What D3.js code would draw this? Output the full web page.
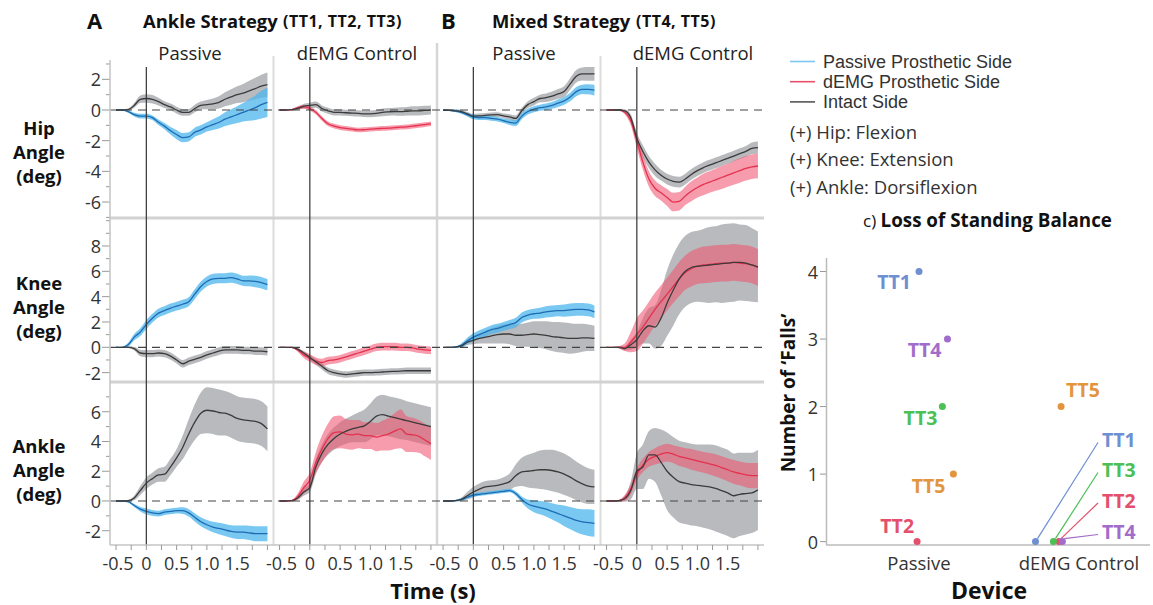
<!DOCTYPE html>
<html><head><meta charset="utf-8">
<script src="https://cdn.jsdelivr.net/npm/d3@7"></script>
<style>body{margin:0;background:#fff;} svg{display:block;font-family:"Open Sans",sans-serif;}</style>
</head><body><svg id="c" width="1153" height="605"></svg>
<script>
// ---------- DATA ----------
const times = [-0.5,-0.4,-0.3,-0.2,-0.1,0,0.1,0.2,0.3,0.4,0.5,0.6,0.7,0.8,0.9,1.0,1.1,1.2,1.3,1.4,1.5,1.6,1.7,1.8,1.9,2.0];
const xTickValues = [-0.5,-0.25,0,0.25,0.5,0.75,1.0,1.25,1.5,1.75,2.0];
const xTickLabels = ["-0.5","0","0.5","1.0","1.5"];
const xLabelValues = [-0.5,0,0.5,1.0,1.5];
const hipTicks = [2,0,-2,-4,-6];
const kneeTicks = [8,6,4,2,0,-2];
const ankleTicks = [6,4,2,0,-2];
const conditions = ["Passive","dEMG Control","Passive","dEMG Control"];
const jointNames = ["Hip","Knee","Ankle"];

// Hip — Ankle strategy, Passive
const hipAPasProsMean = [0,0,-0.1,-0.3,-0.4,-0.4,-0.5,-0.8,-1.05,-1.35,-1.6,-1.8,-1.75,-1.45,-1.3,-1.1,-0.95,-0.8,-0.6,-0.45,-0.3,-0.15,0,0.15,0.35,0.5];
const hipAPasProsSd   = [0.03,0.03,0.08,0.12,0.15,0.15,0.15,0.18,0.2,0.25,0.3,0.3,0.3,0.3,0.3,0.3,0.35,0.4,0.45,0.5,0.55,0.6,0.7,0.8,0.9,0.95];
const hipAPasIntMean  = [0,0,0.02,0.3,0.7,0.75,0.7,0.55,0.35,0.2,0.0,-0.15,-0.15,0.1,0.3,0.35,0.4,0.5,0.7,0.85,1.0,1.1,1.25,1.4,1.55,1.65];
const hipAPasIntSd    = [0.05,0.05,0.08,0.15,0.25,0.28,0.28,0.25,0.22,0.22,0.22,0.22,0.22,0.25,0.25,0.3,0.35,0.4,0.45,0.5,0.55,0.6,0.65,0.7,0.75,0.8];
// Hip — Ankle strategy, dEMG
const hipADemProsMean = [0,0,0.02,0.15,0.2,0.1,-0.15,-0.55,-0.9,-1.05,-1.15,-1.2,-1.25,-1.3,-1.28,-1.25,-1.22,-1.2,-1.18,-1.15,-1.12,-1.1,-1.05,-1.0,-0.95,-0.9];
const hipADemProsSd   = [0.03,0.03,0.05,0.1,0.12,0.13,0.14,0.15,0.15,0.15,0.15,0.15,0.15,0.15,0.15,0.15,0.15,0.15,0.15,0.15,0.15,0.15,0.15,0.15,0.15,0.15];
const hipADemIntMean  = [0,0,0.02,0.1,0.25,0.3,0.35,0.1,-0.05,-0.15,-0.15,-0.18,-0.2,-0.22,-0.25,-0.25,-0.22,-0.15,-0.12,-0.1,-0.1,-0.08,-0.05,-0.05,-0.02,0.0];
const hipADemIntSd    = [0.03,0.03,0.05,0.1,0.15,0.18,0.2,0.2,0.2,0.2,0.2,0.2,0.2,0.2,0.2,0.22,0.22,0.25,0.25,0.25,0.28,0.28,0.3,0.3,0.3,0.3];
// Hip — Mixed strategy, Passive
const hipBPasProsMean = [0,-0.02,-0.05,-0.15,-0.3,-0.45,-0.5,-0.5,-0.55,-0.6,-0.7,-0.8,-0.85,-0.4,-0.1,0.05,0.15,0.2,0.3,0.45,0.6,0.85,1.2,1.35,1.35,1.3];
const hipBPasProsSd   = [0.03,0.05,0.08,0.1,0.12,0.15,0.15,0.15,0.15,0.15,0.15,0.18,0.2,0.2,0.2,0.2,0.2,0.22,0.22,0.25,0.25,0.28,0.3,0.3,0.33,0.35];
const hipBPasIntMean  = [0,-0.02,-0.05,-0.1,-0.25,-0.4,-0.38,-0.35,-0.32,-0.3,-0.38,-0.45,-0.55,-0.05,0.35,0.55,0.75,0.8,0.9,1.05,1.2,1.7,2.2,2.35,2.35,2.35];
const hipBPasIntSd    = [0.03,0.05,0.08,0.1,0.12,0.15,0.15,0.15,0.15,0.15,0.15,0.18,0.2,0.2,0.22,0.25,0.25,0.28,0.3,0.32,0.35,0.38,0.4,0.42,0.45,0.45];
// Hip — Mixed strategy, dEMG
const hipBDemProsMean = [0,0,0,-0.15,-0.7,-2.0,-3.4,-4.5,-5.1,-5.4,-5.7,-6.0,-5.95,-5.6,-5.3,-5.05,-4.85,-4.7,-4.55,-4.4,-4.25,-4.1,-3.95,-3.8,-3.7,-3.65];
const hipBDemProsSd   = [0.03,0.03,0.05,0.12,0.3,0.5,0.5,0.5,0.5,0.5,0.55,0.6,0.6,0.6,0.65,0.65,0.7,0.7,0.72,0.75,0.75,0.78,0.8,0.8,0.8,0.8];
const hipBDemIntMean  = [0,0,0,-0.05,-0.5,-1.85,-2.7,-3.4,-3.9,-4.25,-4.5,-4.65,-4.7,-4.5,-4.2,-3.95,-3.75,-3.6,-3.45,-3.3,-3.15,-3.0,-2.85,-2.7,-2.5,-2.45];
const hipBDemIntSd    = [0.03,0.03,0.05,0.1,0.2,0.35,0.4,0.4,0.4,0.35,0.35,0.35,0.35,0.35,0.35,0.35,0.35,0.35,0.35,0.35,0.35,0.35,0.35,0.35,0.38,0.4];

// Knee
const kneeAPasProsMean = [0,0,0.2,0.8,1.2,1.8,2.3,2.7,2.9,3.1,3.25,3.4,3.6,4.2,4.8,5.2,5.4,5.45,5.45,5.5,5.4,5.25,5.25,5.2,5.1,4.95];
const kneeAPasProsSd   = [0.03,0.05,0.15,0.25,0.3,0.35,0.35,0.35,0.35,0.35,0.35,0.35,0.35,0.38,0.4,0.4,0.4,0.4,0.4,0.4,0.4,0.4,0.42,0.45,0.45,0.45];
const kneeAPasIntMean  = [0,0,0,-0.1,-0.45,-0.5,-0.5,-0.45,-0.5,-0.7,-1.0,-1.3,-1.1,-0.95,-0.8,-0.6,-0.45,-0.3,-0.2,-0.2,-0.2,-0.25,-0.25,-0.3,-0.3,-0.35];
const kneeAPasIntSd    = [0.03,0.03,0.05,0.15,0.25,0.28,0.28,0.28,0.28,0.28,0.28,0.3,0.3,0.3,0.3,0.3,0.3,0.3,0.3,0.3,0.3,0.3,0.3,0.3,0.3,0.3];
const kneeADemProsMean = [0,0,0,-0.2,-0.6,-0.85,-1.1,-1.2,-1.05,-1.0,-0.9,-0.75,-0.6,-0.45,-0.3,-0.15,0,0.05,0.05,0.05,0,0,-0.05,-0.15,-0.2,-0.25];
const kneeADemProsSd   = [0.03,0.03,0.05,0.15,0.25,0.3,0.3,0.3,0.3,0.3,0.3,0.3,0.3,0.3,0.3,0.3,0.3,0.3,0.3,0.3,0.3,0.3,0.3,0.3,0.3,0.3];
const kneeADemIntMean  = [0,0,0,-0.15,-0.45,-0.8,-1.15,-1.5,-1.85,-2.0,-2.1,-2.15,-2.1,-2.05,-2.0,-2.0,-1.98,-1.95,-1.92,-1.9,-1.88,-1.85,-1.85,-1.85,-1.85,-1.85];
const kneeADemIntSd    = [0.03,0.03,0.05,0.1,0.15,0.2,0.22,0.25,0.25,0.25,0.25,0.25,0.25,0.25,0.25,0.25,0.25,0.25,0.25,0.25,0.25,0.25,0.25,0.25,0.25,0.25];
const kneeBPasProsMean = [0,0,0.02,0.15,0.5,0.8,1.0,1.2,1.4,1.5,1.65,1.8,1.95,2.35,2.55,2.65,2.7,2.8,2.85,2.9,2.9,2.95,3.0,3.0,2.95,2.8];
const kneeBPasProsSd   = [0.03,0.03,0.05,0.15,0.25,0.3,0.35,0.35,0.35,0.35,0.35,0.35,0.38,0.4,0.4,0.4,0.42,0.45,0.45,0.45,0.48,0.5,0.5,0.5,0.5,0.5];
const kneeBPasIntMean  = [0,0,0.02,0.1,0.4,0.55,0.7,0.8,0.9,1.0,1.05,1.05,0.95,0.95,1.0,1.05,1.0,0.95,0.85,0.8,0.75,0.7,0.7,0.75,0.75,0.7];
const kneeBPasIntSd    = [0.03,0.03,0.05,0.12,0.22,0.3,0.4,0.5,0.6,0.7,0.75,0.8,0.85,0.9,0.95,1.0,1.05,1.1,1.15,1.2,1.2,1.2,1.15,1.1,1.05,1.0];
const kneeBDemProsMean = [0,0,0,0.0,0.4,1.0,1.6,2.3,3.0,3.6,4.2,4.8,5.4,5.9,6.2,6.4,6.5,6.55,6.6,6.65,6.65,6.7,6.65,6.6,6.5,6.3];
const kneeBDemProsSd   = [0.03,0.03,0.1,0.3,0.8,1.3,1.3,1.3,1.3,1.3,1.3,1.3,1.35,1.35,1.4,1.4,1.45,1.45,1.45,1.45,1.45,1.45,1.45,1.45,1.45,1.45];
const kneeBDemIntMean  = [0,0,0,-0.1,0.2,0.6,1.3,1.7,1.6,2.3,3.5,4.5,5.4,6.0,6.3,6.4,6.45,6.5,6.55,6.6,6.65,6.7,6.7,6.65,6.5,6.35];
const kneeBDemIntSd    = [0.03,0.03,0.05,0.15,0.4,0.6,1.0,1.4,1.7,2.2,2.6,2.8,2.8,2.8,2.8,2.8,2.9,3.0,3.0,3.1,3.1,3.1,3.0,3.0,2.9,2.8];

// Ankle
const ankleAPasProsMean = [0,0,-0.05,-0.3,-0.55,-0.7,-0.8,-0.85,-0.75,-0.7,-0.65,-0.65,-0.8,-1.1,-1.4,-1.6,-1.75,-1.85,-1.95,-2.05,-2.1,-2.1,-2.15,-2.2,-2.2,-2.2];
const ankleAPasProsSd   = [0.03,0.03,0.05,0.1,0.15,0.2,0.2,0.2,0.2,0.2,0.2,0.22,0.25,0.28,0.3,0.32,0.35,0.38,0.4,0.42,0.45,0.45,0.48,0.5,0.5,0.5];
const ankleAPasIntMean  = [0,0,0.02,0.2,0.7,1.2,1.5,1.75,1.8,2.3,2.9,3.6,4.5,5.3,5.9,6.1,6.05,5.95,5.9,5.75,5.55,5.45,5.4,5.35,5.2,4.85];
const ankleAPasIntSd    = [0.03,0.03,0.05,0.15,0.3,0.4,0.4,0.45,0.5,0.55,0.6,0.8,1.0,1.2,1.4,1.55,1.55,1.55,1.5,1.5,1.5,1.5,1.5,1.5,1.5,1.5];
const ankleADemProsMean = [0,0,0.02,0.3,0.9,1.4,2.6,3.5,4.2,4.6,4.65,4.5,4.45,4.5,4.4,4.4,4.3,4.4,4.5,4.7,4.85,4.5,4.45,4.35,4.1,3.85];
const ankleADemProsSd   = [0.03,0.03,0.05,0.2,0.4,0.5,0.7,0.9,1.0,1.1,1.1,1.0,1.0,0.95,0.9,0.9,0.95,1.0,1.1,1.2,1.3,1.2,1.15,1.1,1.1,1.1];
const ankleADemIntMean  = [0,0,0.02,0.2,0.6,0.9,2.3,3.2,3.8,4.2,4.5,4.7,4.85,4.95,5.05,5.35,5.7,5.8,5.7,5.6,5.5,5.4,5.3,5.2,5.1,5.0];
const ankleADemIntSd    = [0.03,0.03,0.05,0.12,0.25,0.3,0.5,0.6,0.7,0.75,0.8,0.85,0.9,1.0,1.1,1.2,1.3,1.35,1.35,1.35,1.35,1.3,1.3,1.3,1.3,1.3];
const ankleBPasProsMean = [0,0,0.02,0.1,0.25,0.4,0.45,0.5,0.55,0.6,0.65,0.7,0.5,0.1,-0.2,-0.35,-0.45,-0.55,-0.7,-0.85,-1.0,-1.15,-1.3,-1.4,-1.45,-1.5];
const ankleBPasProsSd   = [0.03,0.03,0.05,0.08,0.1,0.12,0.12,0.12,0.12,0.12,0.12,0.12,0.15,0.2,0.3,0.4,0.45,0.5,0.55,0.6,0.7,0.75,0.8,0.85,0.9,0.9];
const ankleBPasIntMean  = [0,0,0.02,0.1,0.35,0.6,0.8,0.95,1.0,1.05,1.15,1.3,1.7,1.95,2.0,2.05,2.1,2.1,2.05,1.95,1.8,1.6,1.35,1.15,1.0,0.95];
const ankleBPasIntSd    = [0.03,0.03,0.05,0.12,0.25,0.35,0.38,0.4,0.4,0.4,0.45,0.55,0.75,0.95,1.1,1.2,1.3,1.35,1.4,1.4,1.4,1.35,1.3,1.25,1.2,1.15];
const ankleBDemProsMean = [0,0,0.02,0.2,0.8,1.8,2.4,2.8,3.0,3.15,3.25,3.15,3.0,2.9,2.8,2.7,2.6,2.5,2.4,2.25,2.1,1.95,1.85,1.75,1.7,1.7];
const ankleBDemProsSd   = [0.03,0.03,0.05,0.2,0.35,0.4,0.45,0.5,0.55,0.6,0.6,0.6,0.65,0.65,0.7,0.7,0.7,0.72,0.75,0.75,0.78,0.8,0.8,0.82,0.85,0.85];
const ankleBDemIntMean  = [0,0,0.02,0.15,0.7,2.0,2.3,3.1,3.1,2.6,2.0,1.6,1.3,1.2,1.1,1.05,1.0,0.95,0.85,0.7,0.55,0.35,0.45,0.5,0.55,0.75];
const ankleBDemIntSd    = [0.03,0.03,0.05,0.2,0.6,1.2,1.5,1.6,1.8,2.2,2.6,2.7,2.75,2.75,2.75,2.75,2.8,2.85,2.9,2.9,2.9,2.85,2.8,2.75,2.7,2.7];

// Falls scatter
const subjects = ["TT1","TT2","TT3","TT4","TT5"];
const devices = ["Passive","dEMG Control"];
const fallsPassive = [4,0,2,3,1];
const fallsDemg = [0,0,0,0,2];
const jitterPassive = [0,-0.012,0.146,0.178,0.215];
const jitterDemg = [-0.272,-0.125,-0.16,-0.104,-0.112];
const fallTicks = [0,1,2,3,4];

// ---------- LAYOUT ----------
const svg = d3.select("#c");
const colors = {
  intBand:"#a6a9ac", intLine:"#3b3b3b",
  pasBand:"#4cb6ee", pasLine:"#1d6cb3",
  demBand:"#ef5570", demLine:"#e5314e"
};
const subjColor = {TT1:"#6e8fd2",TT2:"#e4506b",TT3:"#4cbf55",TT4:"#a26cca",TT5:"#e3953e"};
const panelLeft = [110,273.5,437,600.5], panelW = 163.5;
const rows = [
  {ticks:hipTicks, domain:[-7.04,3.26], range:[218,60], minor:d3.range(-7,4)},
  {ticks:kneeTicks, domain:[-2.74,10.21], range:[382,218], minor:d3.range(-2,11)},
  {ticks:ankleTicks, domain:[-2.96,8.0], range:[545,382], minor:d3.range(-2,8)}
];
const rowSeries = [
  [[hipAPasProsMean,hipAPasProsSd,hipAPasIntMean,hipAPasIntSd],[hipADemProsMean,hipADemProsSd,hipADemIntMean,hipADemIntSd],
   [hipBPasProsMean,hipBPasProsSd,hipBPasIntMean,hipBPasIntSd],[hipBDemProsMean,hipBDemProsSd,hipBDemIntMean,hipBDemIntSd]],
  [[kneeAPasProsMean,kneeAPasProsSd,kneeAPasIntMean,kneeAPasIntSd],[kneeADemProsMean,kneeADemProsSd,kneeADemIntMean,kneeADemIntSd],
   [kneeBPasProsMean,kneeBPasProsSd,kneeBPasIntMean,kneeBPasIntSd],[kneeBDemProsMean,kneeBDemProsSd,kneeBDemIntMean,kneeBDemIntSd]],
  [[ankleAPasProsMean,ankleAPasProsSd,ankleAPasIntMean,ankleAPasIntSd],[ankleADemProsMean,ankleADemProsSd,ankleADemIntMean,ankleADemIntSd],
   [ankleBPasProsMean,ankleBPasProsSd,ankleBPasIntMean,ankleBPasIntSd],[ankleBDemProsMean,ankleBDemProsSd,ankleBDemIntMean,ankleBDemIntSd]]
];
const xScales = panelLeft.map(l => d3.scaleLinear().domain([-0.6,2.1]).range([l,l+panelW]));
const yScales = rows.map(r => d3.scaleLinear().domain(r.domain).range(r.range));
const plotRight = panelLeft[3]+panelW;

// separators
const sep = svg.append("g");
[273.5,600.5].forEach(x => sep.append("line").attr("x1",x).attr("x2",x).attr("y1",56).attr("y2",545).attr("stroke","#dcdcdc").attr("stroke-width",2));
sep.append("line").attr("x1",437).attr("x2",437).attr("y1",43).attr("y2",545).attr("stroke","#d6d6d6").attr("stroke-width",2.5);
[218,382].forEach(y => sep.append("line").attr("x1",110).attr("x2",plotRight).attr("y1",y).attr("y2",y).attr("stroke","#d2d2d2").attr("stroke-width",3));

// data
const curve = d3.curveMonotoneX;
rows.forEach((r,ri) => {
  const ys = yScales[ri];
  panelLeft.forEach((l,ci) => {
    const xs = xScales[ci];
    const [pm,psd,im,isd] = rowSeries[ri][ci];
    const isDem = ci % 2 === 1;
    const g = svg.append("g");
    const area = (m,s) => d3.area().curve(curve).x((d,i)=>xs(times[i])).y0((d,i)=>ys(m[i]-s[i])).y1((d,i)=>ys(m[i]+s[i]))(m);
    const line = m => d3.line().curve(curve).x((d,i)=>xs(times[i])).y(d=>ys(d))(m);
    g.append("path").attr("d",area(im,isd)).attr("fill",colors.intBand).attr("opacity",0.8);
    g.append("path").attr("d",area(pm,psd)).attr("fill",isDem?colors.demBand:colors.pasBand).attr("opacity",isDem?0.58:0.75);
    g.append("path").attr("d",line(pm)).attr("fill","none").attr("stroke",isDem?colors.demLine:colors.pasLine).attr("stroke-width",1.3);
    g.append("path").attr("d",line(im)).attr("fill","none").attr("stroke",colors.intLine).attr("stroke-width",1.3);
  });
  svg.append("line").attr("x1",110).attr("x2",plotRight).attr("y1",ys(0)).attr("y2",ys(0))
    .attr("stroke","#444").attr("stroke-width",1.2).attr("stroke-dasharray","8,6");
  const ag = svg.append("g");
  r.minor.forEach(v => {
    const major = r.ticks.includes(v);
    ag.append("line").attr("x1",110-(major?8:4)).attr("x2",110).attr("y1",ys(v)).attr("y2",ys(v)).attr("stroke","#999").attr("stroke-width",1);
  });
  r.ticks.forEach(v => ag.append("text").attr("x",101).attr("y",ys(v)).attr("text-anchor","end").attr("dominant-baseline","central")
    .attr("font-size",18).attr("fill","#333").text(String(v)));
});
xScales.forEach(xs => svg.append("line").attr("x1",xs(0)).attr("x2",xs(0)).attr("y1",67).attr("y2",545).attr("stroke","#333").attr("stroke-width",1.2));
svg.append("line").attr("x1",110).attr("x2",110).attr("y1",60).attr("y2",545).attr("stroke","#c4c4c4").attr("stroke-width",1.5);
svg.append("line").attr("x1",110).attr("x2",plotRight).attr("y1",545).attr("y2",545).attr("stroke","#c4c4c4").attr("stroke-width",1.5);
xScales.forEach(xs => {
  xTickValues.forEach(v => svg.append("line").attr("x1",xs(v)).attr("x2",xs(v)).attr("y1",545).attr("y2",550).attr("stroke","#999"));
  xLabelValues.forEach((v,i) => svg.append("text").attr("x",xs(v)+(v<0?2:0)).attr("y",563).attr("text-anchor","middle").attr("dominant-baseline","central")
    .attr("font-size",18).attr("fill","#333").text(xTickLabels[i]));
});
svg.append("text").attr("x",433).attr("y",590).attr("text-anchor","middle").attr("dominant-baseline","central")
  .attr("font-size",22).attr("font-weight","bold").attr("fill","#111").text("Time (s)");

// panel titles
const conditionCenters = [190,357,524,693];
conditions.forEach((c,i) => svg.append("text").attr("x",conditionCenters[i]).attr("y",52).attr("text-anchor","middle").attr("dominant-baseline","central")
  .attr("font-size",18.5).attr("fill","#222").text(c));

// headers
function header(letter, letterX, titleX, subX, title, sub){
  svg.append("text").attr("x",letterX).attr("y",20).attr("dominant-baseline","central").attr("font-size",22).attr("font-weight","bold").attr("fill","#111").text(letter);
  svg.append("text").attr("x",titleX).attr("y",20).attr("dominant-baseline","central").attr("font-weight","bold").attr("fill","#111").attr("font-size",18.4).text(title);
  svg.append("text").attr("x",subX).attr("y",21).attr("dominant-baseline","central").attr("font-weight","bold").attr("fill","#111").attr("font-size",16).attr("letter-spacing",0.5).text(sub);
}
header("A",87,143,283,"Ankle Strategy","(TT1, TT2, TT3)");
header("B",441,492,636,"Mixed Strategy","(TT4, TT5)");

// row labels (one multi-line text each)
const rowLabelY = [127,282,445];
jointNames.forEach((n,i) => {
  const t = svg.append("text").attr("text-anchor","middle").attr("font-size",18.5).attr("font-weight","bold").attr("fill","#111");
  [n,"Angle","(deg)"].forEach((s,j) => t.append("tspan").attr("x",39).attr("y",rowLabelY[i]+j*24).attr("dominant-baseline","central").text(s));
});

// legend
const legendItems = [["Passive Prosthetic Side","#7cc7f0"],["dEMG Prosthetic Side","#e8506a"],["Intact Side","#555"]];
const legendY = [61.5,81.7,101.9];
legendItems.forEach((d,i) => {
  svg.append("line").attr("x1",790).attr("x2",815).attr("y1",legendY[i]).attr("y2",legendY[i]).attr("stroke",d[1]).attr("stroke-width",1.6);
  svg.append("text").attr("x",823).attr("y",legendY[i]).attr("dominant-baseline","central")
    .attr("font-family","'Liberation Sans',Arial,sans-serif").attr("font-size",18).attr("fill","#333").text(d[0]);
});
const notes = ["(+) Hip: Flexion","(+) Knee: Extension","(+) Ankle: Dorsiflexion"];
const notesY = [131,158.5,186.5];
notes.forEach((s,i) => svg.append("text").attr("x",790).attr("y",notesY[i]).attr("dominant-baseline","central").attr("font-size",18.5).attr("fill","#333").text(s));
const ct = svg.append("text").attr("x",863).attr("y",220).attr("dominant-baseline","central").attr("fill","#111");
ct.append("tspan").attr("font-size",17).text("c) ");
ct.append("tspan").attr("font-size",18.8).attr("font-weight","bold").text("Loss of Standing Balance");

// ---------- SCATTER ----------
const sx = d3.scalePoint().domain(devices).range([919,1079]);
const step = 160;
const sy = d3.scaleLinear().domain([-0.05,4.2]).range([545,258]);
svg.append("line").attr("x1",826.5).attr("x2",826.5).attr("y1",258).attr("y2",545).attr("stroke","#bbb").attr("stroke-width",1.5);
svg.append("line").attr("x1",826).attr("x2",1150).attr("y1",545).attr("y2",545).attr("stroke","#bbb").attr("stroke-width",1.5);
fallTicks.forEach(v => {
  svg.append("line").attr("x1",820).attr("x2",826).attr("y1",sy(v)).attr("y2",sy(v)).attr("stroke","#999");
  svg.append("text").attr("x",818).attr("y",sy(v)).attr("text-anchor","end").attr("dominant-baseline","central").attr("font-size",18).attr("fill","#333").text(v);
});
devices.forEach(d => svg.append("text").attr("x",sx(d)).attr("y",562).attr("text-anchor","middle").attr("dominant-baseline","central").attr("font-size",18.5).attr("fill","#333").text(d));
svg.append("text").attr("x",989).attr("y",590).attr("text-anchor","middle").attr("dominant-baseline","central").attr("font-size",23).attr("font-weight","bold").attr("fill","#111").text("Device");
svg.append("text").attr("transform","translate(788,393) rotate(-90)").attr("text-anchor","middle").attr("dominant-baseline","central")
  .attr("font-size",19).attr("font-weight","bold").attr("fill","#111").text("Number of \u2018Falls\u2019");

const pasLabelOff = {TT1:[-8,10],TT2:[-3,-16],TT3:[-5,11],TT4:[-6,10],TT5:[-8,11]};
subjects.forEach((s,i) => {
  const x = sx("Passive")+jitterPassive[i]*step, y = sy(fallsPassive[i]);
  svg.append("circle").attr("cx",x).attr("cy",y).attr("r",3.5).attr("fill",subjColor[s]);
  svg.append("text").attr("x",x+pasLabelOff[s][0]).attr("y",y+pasLabelOff[s][1]).attr("text-anchor","end").attr("dominant-baseline","central")
    .attr("font-size",19.5).attr("font-weight","bold").attr("fill",subjColor[s]).text(s);
});
const demLabelY = {TT1:439.5,TT3:469.5,TT2:500,TT4:531.5};
subjects.forEach((s,i) => {
  const x = sx("dEMG Control")+jitterDemg[i]*step, y = sy(fallsDemg[i]);
  if (demLabelY[s] !== undefined) {
    svg.append("line").attr("x1",x+2).attr("y1",y-3).attr("x2",1098).attr("y2",demLabelY[s]+3).attr("stroke",subjColor[s]).attr("stroke-width",1.2);
  }
});
subjects.forEach((s,i) => {
  const x = sx("dEMG Control")+jitterDemg[i]*step, y = sy(fallsDemg[i]);
  svg.append("circle").attr("cx",x).attr("cy",y).attr("r",3.5).attr("fill",subjColor[s]);
  if (demLabelY[s] !== undefined) {
    svg.append("text").attr("x",1102).attr("y",demLabelY[s]).attr("dominant-baseline","central")
      .attr("font-size",19.5).attr("font-weight","bold").attr("fill",subjColor[s]).text(s);
  } else {
    svg.append("text").attr("x",x+5).attr("y",y-17).attr("dominant-baseline","central")
      .attr("font-size",19.5).attr("font-weight","bold").attr("fill",subjColor[s]).text(s);
  }
});
</script></body></html>
